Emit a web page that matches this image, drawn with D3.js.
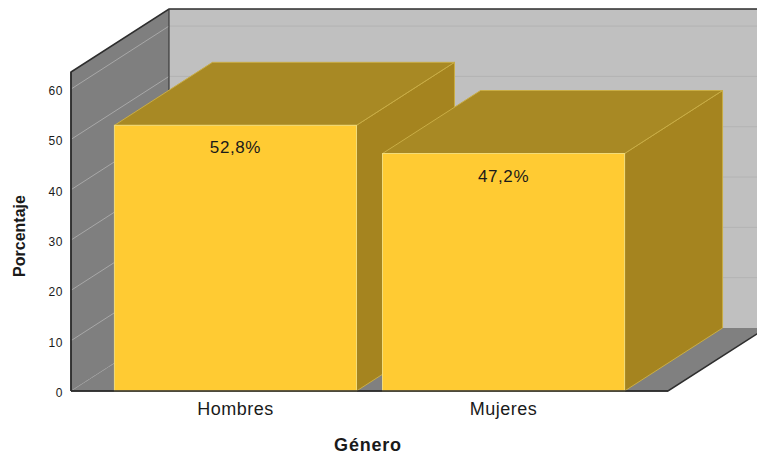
<!DOCTYPE html>
<html>
<head>
<meta charset="utf-8">
<script src="https://cdn.jsdelivr.net/npm/d3@7"></script>
<style>
  html, body { margin: 0; padding: 0; background: #ffffff; }
  svg { display: block; font-family: "Liberation Sans", Arial, sans-serif; }
</style>
</head>
<body>
<svg id="chart" width="757" height="455"></svg>
<script>
// ---- data ----
const categories = ["Hombres", "Mujeres"];
const percentages = [52.8, 47.2];
const valueLabels = ["52,8%", "47,2%"];
const yTicks = [0, 10, 20, 30, 40, 50, 60];
const yAxisTitle = "Porcentaje";
const xAxisTitle = "Género";

// ---- layout ----
const W = 757, H = 455;
const x0 = 71, x1 = 668;          // front plane, left/right
const yBottom = 391, yTop = 72;   // front plane, value 0 / axis maximum
const yMaxValue = 63.4;
const depthX = 98, depthY = 63;   // oblique depth offset

const svg = d3.select("#chart");

const y = d3.scaleLinear().domain([0, yMaxValue]).range([yBottom, yTop]);
const x = d3.scaleBand().domain(categories).range([x0, x1])
  .paddingInner(0.097).paddingOuter(0.162);

const line = d3.line();
const poly = pts => line(pts) + "Z";

// ---- walls ----
const backTop = y(yMaxValue) - depthY, backBottom = y(0) - depthY;
// back wall
svg.append("path")
  .attr("d", poly([[x0 + depthX, backTop], [x1 + depthX, backTop], [x1 + depthX, backBottom], [x0 + depthX, backBottom]]))
  .attr("fill", "#c0c0c0");
// left wall
svg.append("path")
  .attr("d", poly([[x0, y(yMaxValue)], [x0 + depthX, backTop], [x0 + depthX, backBottom], [x0, y(0)]]))
  .attr("fill", "#7f7f7f");
// floor
svg.append("path")
  .attr("d", poly([[x0, y(0)], [x0 + depthX, backBottom], [x1 + depthX, backBottom], [x1, y(0)]]))
  .attr("fill", "#808080");

// back wall gridlines
svg.append("g").selectAll("line")
  .data(yTicks.filter(t => t > 0)).join("line")
  .attr("x1", x0 + depthX).attr("x2", x1 + depthX)
  .attr("y1", d => y(d) - depthY).attr("y2", d => y(d) - depthY)
  .attr("stroke", "#b3b3b3").attr("stroke-width", 1);
// left wall gridlines
svg.append("g").selectAll("line")
  .data(yTicks).join("line")
  .attr("x1", x0).attr("x2", x0 + depthX)
  .attr("y1", d => y(d)).attr("y2", d => y(d) - depthY)
  .attr("stroke", d => d === 0 ? "#9c9c9c" : "#a8a8a8")
  .attr("stroke-dasharray", d => d === 0 ? "1.5,1" : null)
  .attr("stroke-width", 1);

// wall outlines
const dark = "#2e2e2e";
svg.append("path")
  .attr("d", line([[x0, y(0)], [x0, y(yMaxValue)], [x0 + depthX, backTop], [x1 + depthX, backTop]]))
  .attr("fill", "none").attr("stroke", dark).attr("stroke-width", 1.5);
svg.append("path")
  .attr("d", line([[x0 + depthX, backTop], [x0 + depthX, backBottom]]))
  .attr("fill", "none").attr("stroke", "#3a3a3a").attr("stroke-width", 1.2);
svg.append("path")
  .attr("d", line([[x0, y(0)], [x1, y(0)], [x1 + depthX, backBottom]]))
  .attr("fill", "none").attr("stroke", dark).attr("stroke-width", 1.5);

// ---- bars ----
const bars = svg.append("g");
categories.forEach((c, i) => {
  const v = percentages[i];
  const xl = x(c), xr = x(c) + x.bandwidth();
  const yt = y(v), yb = y(0);
  const g = bars.append("g");
  // side face
  g.append("path")
    .attr("d", poly([[xr, yt], [xr + depthX, yt - depthY], [xr + depthX, yb - depthY], [xr, yb]]))
    .attr("fill", "#a5841f").attr("stroke", "#c9ad45").attr("stroke-width", 1).attr("stroke-linejoin", "round");
  // top face
  g.append("path")
    .attr("d", poly([[xl, yt], [xl + depthX, yt - depthY], [xr + depthX, yt - depthY], [xr, yt]]))
    .attr("fill", "#a88924").attr("stroke", "#c9ad45").attr("stroke-width", 1).attr("stroke-linejoin", "round");
  // front face
  g.append("rect")
    .attr("x", xl).attr("y", yt)
    .attr("width", x.bandwidth()).attr("height", yb - yt)
    .attr("fill", "#ffcb33").attr("stroke", "#f2dc7a").attr("stroke-width", 1);
  // value label
  g.append("text")
    .attr("x", xl + x.bandwidth() / 2).attr("y", yt + 28)
    .attr("text-anchor", "middle")
    .attr("font-size", 17).attr("letter-spacing", 0.6)
    .attr("fill", "#1a1a1a")
    .text(valueLabels[i]);
});

// redraw front axis lines on top
svg.append("path")
  .attr("d", line([[x0, y(0)], [x0, y(yMaxValue)]]))
  .attr("fill", "none").attr("stroke", dark).attr("stroke-width", 1.5);
svg.append("path")
  .attr("d", line([[x0, y(0)], [x1, y(0)]]))
  .attr("fill", "none").attr("stroke", dark).attr("stroke-width", 1.5);

// ---- axes ----
const yAxis = d3.axisLeft(y).tickValues(yTicks).tickSize(0).tickPadding(8);
const gy = svg.append("g").attr("transform", `translate(${x0},0)`).call(yAxis);
gy.select(".domain").remove();
gy.selectAll("text")
  .attr("font-size", 12).attr("letter-spacing", 0.6)
  .attr("fill", "#1a1a1a")
  .attr("font-family", "'Liberation Sans', Arial, sans-serif")
  .attr("dy", "0.45em");

const xAxis = d3.axisBottom(x).tickSize(0).tickPadding(0);
const gx = svg.append("g").attr("transform", `translate(0,${yBottom})`).call(xAxis);
gx.select(".domain").remove();
gx.selectAll("text")
  .attr("y", 23.5).attr("dy", null)
  .attr("font-size", 18).attr("letter-spacing", 0.5)
  .attr("fill", "#1a1a1a")
  .attr("font-family", "'Liberation Sans', Arial, sans-serif");

// axis titles
svg.append("text")
  .attr("transform", `translate(25,236) rotate(-90)`)
  .attr("text-anchor", "middle")
  .attr("font-size", 16).attr("font-weight", "bold")
  .attr("fill", "#1a1a1a")
  .text(yAxisTitle);
svg.append("text")
  .attr("x", 368).attr("y", 451)
  .attr("text-anchor", "middle")
  .attr("font-size", 18).attr("font-weight", "bold").attr("letter-spacing", 0.8)
  .attr("fill", "#1a1a1a")
  .text(xAxisTitle);
</script>
</body>
</html>
